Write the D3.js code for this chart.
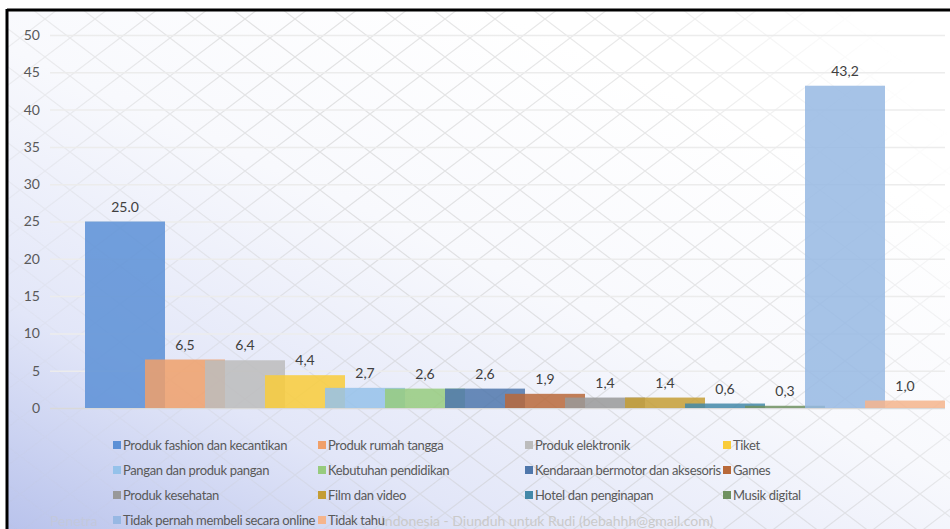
<!DOCTYPE html>
<html>
<head>
<meta charset="utf-8">
<script src="https://cdn.jsdelivr.net/npm/d3@7"></script>
<style>
  html, body { margin: 0; padding: 0; background: #fff; }
  svg { display: block; }
  text { font-family: Lato, "Open Sans", sans-serif; }
</style>
</head>
<body>
<svg id="chart" width="950" height="529"></svg>
<script>
// ---- data ----
const categories = [
  "Produk fashion dan kecantikan", "Produk rumah tangga", "Produk elektronik", "Tiket",
  "Pangan dan produk pangan", "Kebutuhan pendidikan", "Kendaraan bermotor dan aksesoris", "Games",
  "Produk kesehatan", "Film dan video", "Hotel dan penginapan", "Musik digital",
  "Tidak pernah membeli secara online", "Tidak tahu"
];
const values = [25.0, 6.5, 6.4, 4.4, 2.7, 2.6, 2.6, 1.9, 1.4, 1.4, 0.6, 0.3, 43.2, 1.0];
const valueLabels = ["25.0", "6,5", "6,4", "4,4", "2,7", "2,6", "2,6", "1,9", "1,4", "1,4", "0,6", "0,3", "43,2", "1,0"];
const colors = [
  "#5b8fd6", "#f0a06a", "#bcbcbc", "#f9cc3a",
  "#95c2ea", "#97cb7e", "#4f77ab", "#b8693a",
  "#999999", "#c49d35", "#4388a8", "#6f9160",
  "#97b8e3", "#f5b48c"
];
const yTicks = [0, 5, 10, 15, 20, 25, 30, 35, 40, 45, 50];
const watermarkParts = ["Penetra", "Indonesia - Diunduh untuk Rudi (bebahhh@gmail.com)"];

// ---- layout ----
const svg = d3.select("#chart");
const W = 950, H = 529;
const plot = { left: 50, right: 945, top: 35, bottom: 408 };

const defs = svg.append("defs");
const bg = defs.append("linearGradient").attr("id", "bgGrad")
  .attr("x1", "0").attr("y1", "1").attr("x2", "0.7").attr("y2", "0.15");
bg.append("stop").attr("offset", "0").attr("stop-color", "#b9c3ec");
bg.append("stop").attr("offset", "0.3").attr("stop-color", "#e2e6f8");
bg.append("stop").attr("offset", "0.65").attr("stop-color", "#f8f9fd");
bg.append("stop").attr("offset", "1").attr("stop-color", "#ffffff");

const pat = defs.append("pattern").attr("id", "lattice")
  .attr("patternUnits", "userSpaceOnUse").attr("width", 50).attr("height", 38)
  .attr("x", 20).attr("y", 0);
pat.append("path").attr("d", "M0,0 L50,38 M0,38 L50,0 M-5,-3.8 L5,3.8 M45,34.2 L55,41.8 M-5,41.8 L5,34.2 M45,3.8 L55,-3.8")
  .attr("stroke", "#c8c8c8").attr("stroke-width", 1.2).attr("fill", "none");

const fade = defs.append("linearGradient").attr("id", "fadeGrad")
  .attr("x1", "0").attr("y1", "0.6").attr("x2", "1").attr("y2", "0.25");
fade.append("stop").attr("offset", "0").attr("stop-color", "#fff").attr("stop-opacity", 0.08);
fade.append("stop").attr("offset", "0.4").attr("stop-color", "#fff").attr("stop-opacity", 0.5);
fade.append("stop").attr("offset", "0.75").attr("stop-color", "#fff").attr("stop-opacity", 0.4);
fade.append("stop").attr("offset", "1").attr("stop-color", "#fff").attr("stop-opacity", 0.0);
const mask = defs.append("mask").attr("id", "fadeMask");
mask.append("rect").attr("x", 0).attr("y", 0).attr("width", W).attr("height", H).attr("fill", "url(#fadeGrad)");

// background
svg.append("rect").attr("x", 8).attr("y", 10).attr("width", W - 8).attr("height", H - 10).attr("fill", "url(#bgGrad)");
svg.append("rect").attr("x", 8).attr("y", 10).attr("width", W - 8).attr("height", H - 10)
  .attr("fill", "url(#lattice)").attr("mask", "url(#fadeMask)");

// frame
svg.append("line").attr("x1", 7).attr("x2", W).attr("y1", 10).attr("y2", 10).attr("stroke", "#000").attr("stroke-width", 3);
svg.append("line").attr("x1", 7).attr("x2", 7).attr("y1", 9).attr("y2", H).attr("stroke", "#000").attr("stroke-width", 3);

// scales
const x = d3.scaleBand().domain(categories).range([85, 85 + 60 * categories.length]).paddingInner(0).paddingOuter(0);
const barW = x.bandwidth() * 4 / 3;
const y = d3.scaleLinear().domain([0, 50]).range([plot.bottom, plot.top]);

// gridlines
const grid = svg.append("g").attr("transform", `translate(${plot.left},0)`)
  .call(d3.axisLeft(y).tickValues(yTicks).tickSize(-(plot.right - plot.left)).tickFormat(""));
grid.select(".domain").remove();
grid.selectAll(".tick line").attr("stroke", "#ececec").attr("stroke-width", 1.5);
grid.selectAll(".tick").filter(d => d === 0).select("line").attr("stroke", "#d9d9d9");

// y axis labels
const yAxis = svg.append("g").attr("transform", `translate(${plot.left},0)`)
  .call(d3.axisLeft(y).tickValues(yTicks).tickSize(0).tickPadding(10));
yAxis.select(".domain").remove();
yAxis.selectAll("text").attr("fill", "#595959").attr("font-size", 14)
  .attr("font-family", "Lato, sans-serif");

// bars
svg.append("g").selectAll("rect").data(values).join("rect")
  .attr("x", (d, i) => x(categories[i]))
  .attr("y", d => y(d))
  .attr("width", barW)
  .attr("height", d => y(0) - y(d))
  .attr("fill", (d, i) => colors[i])
  .attr("fill-opacity", 0.85);

// value labels
svg.append("g").selectAll("text").data(values).join("text")
  .attr("x", (d, i) => x(categories[i]) + barW / 2)
  .attr("y", d => y(d) - 10)
  .attr("text-anchor", "middle")
  .attr("font-size", 14)
  .attr("fill", "#404040")
  .text((d, i) => valueLabels[i]);

// watermark (partly hidden behind legend, as in the source)
svg.append("text").attr("x", 50).attr("y", 526)
  .attr("font-family", "'DejaVu Sans Mono', monospace").attr("font-size", 14)
  .attr("fill", "#c3c8dc").text(watermarkParts[0]);
svg.append("text").attr("x", 381).attr("y", 526)
  .attr("font-family", "'DejaVu Sans Mono', monospace").attr("font-size", 14)
  .attr("fill", "#cacaca").text(watermarkParts[1]);

// legend
const colX = [113, 318, 525, 723];
const rowY = [445, 470, 495, 520];
const leg = svg.append("g").selectAll("g").data(categories).join("g")
  .attr("transform", (d, i) => `translate(${colX[i % 4]},${rowY[Math.floor(i / 4)]})`);
leg.append("rect").attr("x", 0).attr("y", -4).attr("width", 8).attr("height", 8)
  .attr("fill", (d, i) => colors[i]);
leg.append("text").attr("x", 10).attr("y", 0).attr("dy", "0.35em")
  .attr("font-size", 13).attr("letter-spacing", "-0.35px").attr("fill", "#595959")
  .text(d => d);
</script>
</body>
</html>
